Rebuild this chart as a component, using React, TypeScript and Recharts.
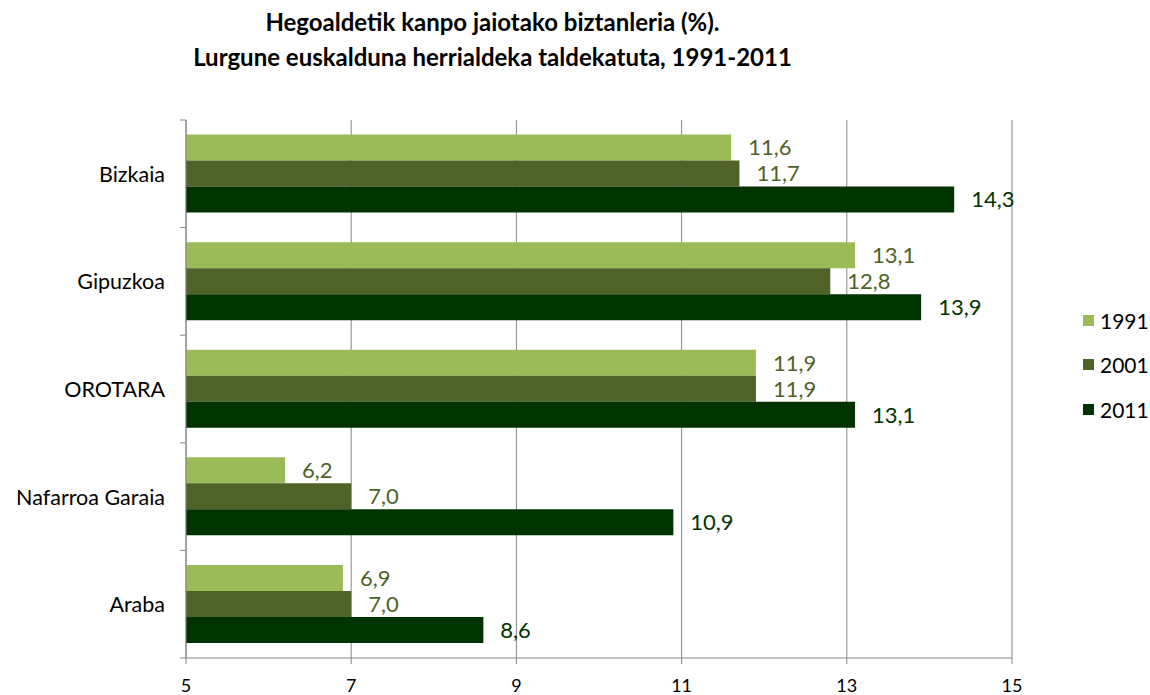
import React from "react";
import { BarChart, Bar, XAxis, YAxis, CartesianGrid, LabelList } from "recharts";

const categories = ["Bizkaia", "Gipuzkoa", "OROTARA", "Nafarroa Garaia", "Araba"];
const v1991 = [11.6, 13.1, 11.9, 6.2, 6.9];
const v2001 = [11.7, 12.8, 11.9, 7.0, 7.0];
const v2011 = [14.3, 13.9, 13.1, 10.9, 8.6];
const xTicks = [5, 7, 9, 11, 13, 15];
const seriesNames = ["1991", "2001", "2011"];
const seriesColors = ["#9BBB59", "#4F6228", "#003300"];
const labelColors = ["#4F6228", "#4F6228", "#003300"];

const data = categories.map((c, i) => ({
  name: c,
  y1991: v1991[i],
  y2001: v2001[i],
  y2011: v2011[i],
}));

const W = 1150;
const H = 695;
const M = { top: 120, right: 138, bottom: 7, left: 10 };
const X_AXIS_H = 30;
const Y_AXIS_W = 176;
const FONT = "Lato, 'Open Sans', sans-serif";
const band = (H - M.top - M.bottom - X_AXIS_H) / categories.length;

const fmt = (v: any) => Number(v).toFixed(1).replace(".", ",");

const YTick = (props: any) => {
  const { x, y, payload, index } = props;
  const ax = x + 15 + 6;
  return (
    <g>
      <line x1={ax - 6} x2={ax} y1={y - band / 2} y2={y - band / 2} stroke="#868686" />
      {index === categories.length - 1 && (
        <line x1={ax - 6} x2={ax} y1={y + band / 2} y2={y + band / 2} stroke="#868686" />
      )}
      <text x={x} y={y} textAnchor="end" dominantBaseline="central" fill="#000" fontSize={21.5} fontFamily={FONT}>
        {payload.value}
      </text>
    </g>
  );
};

export default function App() {
  const keys = ["y1991", "y2001", "y2011"];
  return (
    <div style={{ position: "absolute", left: 0, top: 0, width: W, height: H, background: "#fff", fontFamily: FONT }}>
      <div
        style={{
          position: "absolute",
          left: 0,
          width: 985,
          top: 4,
          textAlign: "center",
          fontWeight: "bold",
          fontSize: 24,
          lineHeight: "35px",
          color: "#000",
        }}
      >
        Hegoaldetik kanpo jaiotako biztanleria (%).
        <br />
        Lurgune euskalduna herrialdeka taldekatuta, 1991-2011
      </div>
      <div style={{ position: "absolute", left: 1083, top: 298, fontFamily: FONT, fontSize: 21 }}>
        {seriesNames.map((n, i) => (
          <div key={n} style={{ display: "flex", alignItems: "center", height: 44.5 }}>
            <span style={{ display: "inline-block", width: 11, height: 11, background: seriesColors[i], marginRight: 6 }} />
            <span style={{ color: "#000" }}>{n}</span>
          </div>
        ))}
      </div>
      <div style={{ position: "absolute", left: 0, top: 0 }}>
        <BarChart
          width={W}
          height={H}
          data={data}
          layout="vertical"
          margin={M}
          barCategoryGap="13.5%"
          barGap={0}
        >
          <CartesianGrid horizontal={false} vertical={true} stroke="#868686" />
          <XAxis
            type="number"
            domain={[5, 15]}
            ticks={xTicks}
            height={X_AXIS_H}
            axisLine={{ stroke: "#868686" }}
            tickLine={{ stroke: "#868686" }}
            tickSize={6}
            tickMargin={15}
            tick={{ fill: "#000", fontSize: 18, fontFamily: FONT }}
            allowDataOverflow
          />
          <YAxis
            type="category"
            dataKey="name"
            width={Y_AXIS_W}
            axisLine={{ stroke: "#868686" }}
            tickLine={false}
            tickMargin={15}
            tickSize={6}
            tick={<YTick />}
          />
          {keys.map((k, i) => (
            <Bar key={k} dataKey={k} name={seriesNames[i]} fill={seriesColors[i]} isAnimationActive={false}>
              <LabelList
                dataKey={k}
                position="right"
                offset={17}
                formatter={fmt}
                fill={labelColors[i]}
                fontSize={22}
                fontFamily={FONT}
              />
            </Bar>
          ))}
        </BarChart>
      </div>
    </div>
  );
}
